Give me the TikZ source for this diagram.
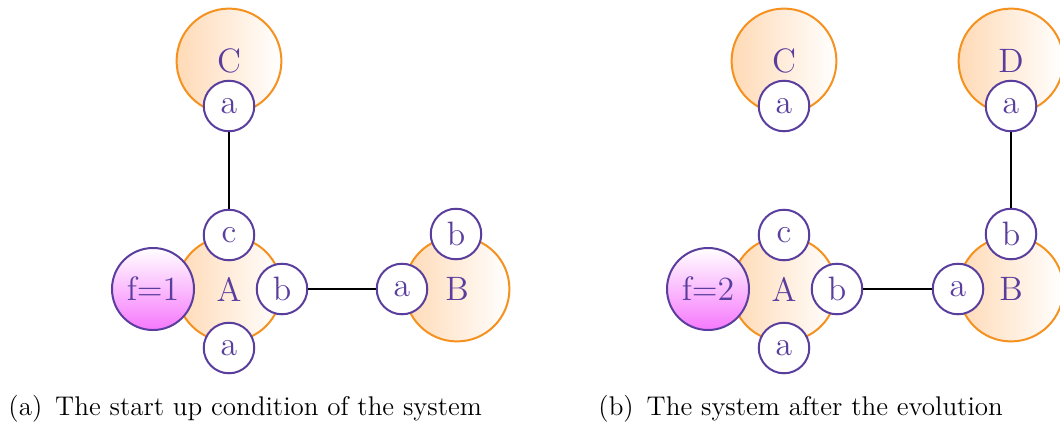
\documentclass[tikz,border=0pt]{standalone}
\usetikzlibrary{positioning}
\definecolor{portc}{RGB}{90,62,158}
\definecolor{orgc}{RGB}{245,145,30}
\definecolor{orgfill}{RGB}{255,218,182}
\definecolor{magfill}{RGB}{246,120,252}
\tikzset{
  cell/.style={circle,draw=orgc,line width=0.85pt,left color=orgfill,right color=white,
    minimum size=44.6pt,inner sep=0pt,text=portc,font=\Large},
  port/.style={circle,draw=portc,line width=0.85pt,fill=white,minimum size=21.5pt,
    inner sep=0pt,text=portc,font=\Large},
  fnode/.style={circle,draw=portc,line width=0.85pt,top color=white,bottom color=magfill,
    minimum size=34.9pt,inner sep=0pt,text=portc,font=\Large},
  conn/.style={black,line width=0.85pt},
  captext/.style={anchor=base west,inner sep=0pt,font=\fontsize{11.5}{13}\selectfont}
}
\begin{document}
\begin{tikzpicture}[x=0.4255pt,y=-0.4255pt]
\useasboundingbox (0,0) rectangle (1060,423);
\clip (0,0) rectangle (1060,423);
% ---------- (a) ----------
\node[cell] (C1) at (229,61) {C};
\node[cell] (A1) at (229,289) {A};
\node[cell] (B1) at (457,289) {B};
\node[fnode] (f1) at (153,289) {f=1};
\node[port] (C1a) at (229,106) {a};
\node[port] (A1c) at (229,235) {c};
\node[port] (A1b) at (282,289) {b};
\node[port] (A1a) at (229,348) {a};
\node[port] (B1a) at (402,289) {a};
\node[port] (B1b) at (456,234) {b};
\draw[conn] (C1a) -- (A1c);
\draw[conn] (A1b) -- (B1a);
% ---------- (b) ----------
\node[cell] (C2) at (784,61) {C};
\node[cell] (D2) at (1011,61) {D};
\node[cell] (A2) at (784,289) {A};
\node[cell] (B2) at (1011,289) {B};
\node[fnode] (f2) at (708,289) {f=2};
\node[port] (C2a) at (784,106) {a};
\node[port] (D2a) at (1011,106) {a};
\node[port] (A2c) at (784,235) {c};
\node[port] (A2b) at (837,289) {b};
\node[port] (A2a) at (784,348) {a};
\node[port] (B2a) at (958,289) {a};
\node[port] (B2b) at (1011,234) {b};
\draw[conn] (A2b) -- (B2a);
\draw[conn] (D2a) -- (B2b);
% ---------- captions ----------
\node[captext] (capa) at (8,415) {(a)\hspace{5.5pt}The start up condition of the system};
\node[captext] (capb) at (598,415) {(b)\hspace{5.5pt}The system after the evolution};
\end{tikzpicture}
\end{document}
